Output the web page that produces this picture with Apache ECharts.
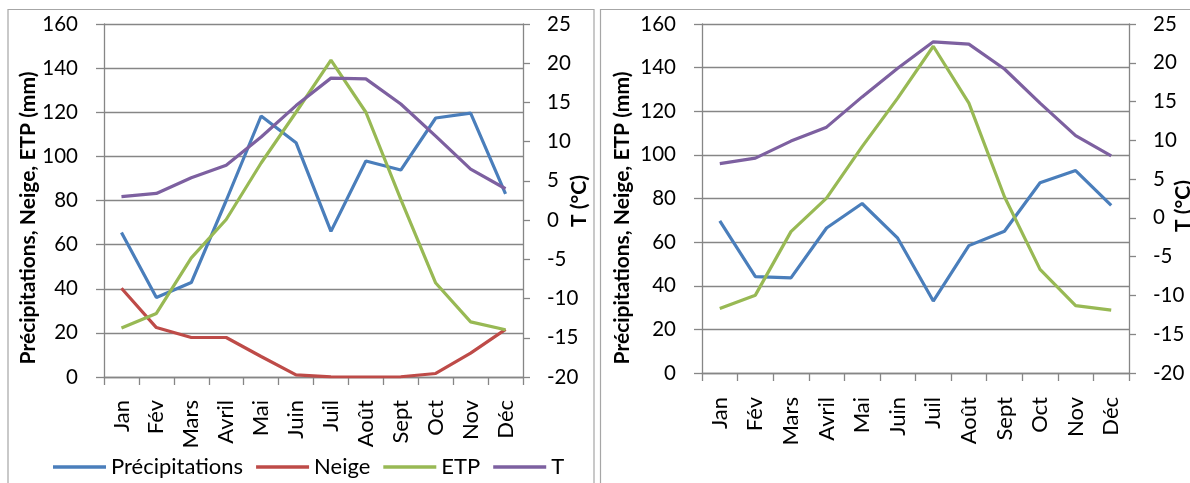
<!DOCTYPE html>
<html>
<head>
<meta charset="utf-8">
<script src="https://cdn.jsdelivr.net/npm/echarts@6/dist/echarts.min.js"></script>
<style>
html,body{margin:0;padding:0;background:#fff;}
#c{width:1190px;height:483px;}
</style>
</head>
<body>
<div id="c"></div>
<script>
const months = ['Jan','Fév','Mars','Avril','Mai','Juin','Juil','Août','Sept','Oct','Nov','Déc'];
const leftTicks = {min:0, max:160, interval:20};
const tempTicks = {min:-20, max:25, interval:5};

// Left chart
const precipA = [65.5, 36, 42.8, 80, 118.3, 106.2, 66, 97.9, 93.8, 117.4, 119.6, 83];
const neigeA  = [40.2, 22.4, 17.9, 17.9, 9.3, 1.0, 0.1, 0, 0.1, 1.6, 10.8, 21.6];
const etpA    = [22.2, 28.8, 54, 71.4, 97, 120, 143.6, 120, 80.5, 42.6, 25, 21.4];
const tempA   = [3.0, 3.4, 5.4, 7.0, 10.6, 14.6, 18.1, 18.0, 14.8, 10.7, 6.5, 4.0];

// Right chart
const precipB = [69.7, 44.2, 43.6, 66.5, 77.7, 61.8, 33, 58.4, 65, 87.2, 92.8, 76.8];
const etpB    = [29.6, 35.7, 64.8, 80.2, 103.8, 126, 149.8, 123.7, 80.8, 47.5, 30.9, 28.8];
const tempB   = [7.0, 7.7, 9.9, 11.7, 15.6, 19.3, 22.7, 22.4, 19.2, 14.8, 10.6, 8.0];

const names = ['Précipitations','Neige','ETP','T'];
const colors = {'Précipitations':'#4A7EBB','Neige':'#BE4B48','ETP':'#98B954','T':'#7D60A0'};

const FONT = 'Lato';
const gray = '#868686';

function xAxis(gi, margin){
  return {
    type:'category', gridIndex:gi, data:months, boundaryGap:true,
    axisLine:{show:true, lineStyle:{color:gray, width:1.3}},
    axisTick:{show:true, length:8, inside:false, lineStyle:{color:gray, width:1.3}},
    axisLabel:{rotate:90, margin:margin, color:'#000', fontFamily:FONT, fontSize:22, interval:0}
  };
}
function yLeft(gi){
  return {
    type:'value', gridIndex:gi, position:'left', min:leftTicks.min, max:leftTicks.max, interval:leftTicks.interval,
    axisLine:{show:true, lineStyle:{color:gray, width:1.3}},
    axisTick:{show:true, length:8, inside:false, lineStyle:{color:gray, width:1.3}},
    splitLine:{show:true, lineStyle:{color:gray, width:1.3}},
    axisLabel:{margin:26, color:'#000', fontFamily:FONT, fontSize:20.5}
  };
}
function yRight(gi){
  return {
    type:'value', gridIndex:gi, position:'right', min:tempTicks.min, max:tempTicks.max, interval:tempTicks.interval,
    axisLine:{show:true, lineStyle:{color:gray, width:1.3}},
    axisTick:{show:true, length:7, inside:false, lineStyle:{color:gray, width:1.3}},
    splitLine:{show:false},
    axisLabel:{margin:24, color:'#000', fontFamily:FONT, fontSize:20.5}
  };
}
function line(name, data, xi, yi){
  return {
    name:name, type:'line', data:data, xAxisIndex:xi, yAxisIndex:yi,
    symbol:'none', smooth:false, animation:false,
    lineStyle:{color:colors[name], width:3.2}, itemStyle:{color:colors[name]}
  };
}

const chart = echarts.init(document.getElementById('c'), null, {renderer:'canvas'});
chart.setOption({
  backgroundColor:'#fff',
  animation:false,
  grid:[
    {left:104, top:24, width:419, height:353},
    {left:702, top:24, width:427, height:349}
  ],
  xAxis:[xAxis(0,23), xAxis(1,24)],
  yAxis:[yLeft(0), yRight(0), yLeft(1), yRight(1)],
  legend:{
    data:names, left:48, top:451, icon:'rect', itemWidth:53, itemHeight:3.5, itemGap:13,
    textStyle:{fontFamily:FONT, fontSize:22, color:'#000'},
    selectedMode:false
  },
  graphic:[
    {type:'rect', shape:{x:8, y:9.5, width:586, height:490}, style:{fill:null, stroke:'#a6a6a6', lineWidth:1.2}, silent:true},
    {type:'rect', shape:{x:600.5, y:9.5, width:600, height:490}, style:{fill:null, stroke:'#a6a6a6', lineWidth:1.2}, silent:true},
    {type:'text', x:28, y:218, rotation:Math.PI/2, style:{text:'Précipitations, Neige, ETP (mm)', font:'bold 21px Lato', fill:'#000', align:'center', verticalAlign:'middle'}},
    {type:'text', x:579, y:201, rotation:Math.PI/2, style:{text:'T (°C)', font:'bold 21px Lato', fill:'#000', align:'center', verticalAlign:'middle'}},
    {type:'text', x:622, y:218, rotation:Math.PI/2, style:{text:'Précipitations, Neige, ETP (mm)', font:'bold 21px Lato', fill:'#000', align:'center', verticalAlign:'middle'}},
    {type:'text', x:1183, y:206, rotation:Math.PI/2, style:{text:'T (°C)', font:'bold 21px Lato', fill:'#000', align:'center', verticalAlign:'middle'}}
  ],
  series:[
    line('Précipitations', precipA, 0, 0),
    line('Neige', neigeA, 0, 0),
    line('ETP', etpA, 0, 0),
    line('T', tempA, 0, 1),
    line('Précipitations', precipB, 1, 2),
    line('ETP', etpB, 1, 2),
    line('T', tempB, 1, 3)
  ]
});
</script>
</body>
</html>
